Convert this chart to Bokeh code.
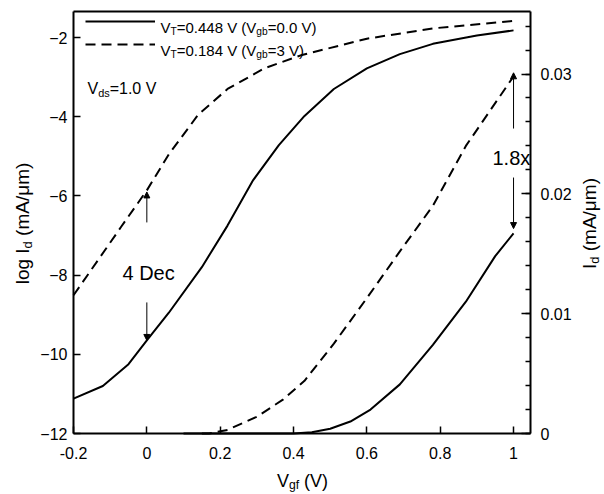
import math
import numpy as np
from bokeh.plotting import figure
from bokeh.models import (Range1d, LinearAxis, FixedTicker, CustomJSTickFormatter,
                          Label, Arrow, NormalHead, Legend, LegendItem)
from bokeh.embed import file_html
from bokeh.resources import INLINE

# ---------------- data ----------------
# log Id (left axis), Vgb = 0.0 V (solid) and Vgb = 3 V (dashed)
vg_solid_log = [-0.2, -0.12, -0.05, 0.0, 0.06, 0.15, 0.22, 0.29, 0.36, 0.43, 0.51, 0.6, 0.69, 0.78, 0.9, 1.0]
logid_solid = [-11.12, -10.8, -10.25, -9.65, -8.95, -7.8, -6.75, -5.6, -4.72, -3.98, -3.3, -2.78, -2.42, -2.16, -1.95, -1.82]
vg_dash_log = [-0.2, -0.13, -0.07, 0.0, 0.06, 0.14, 0.22, 0.32, 0.42, 0.6, 0.78, 1.0]
logid_dash = [-8.51, -7.58, -6.78, -5.86, -4.95, -3.95, -3.3, -2.78, -2.45, -2.03, -1.77, -1.58]
# linear Id (right axis, mA/um)
vg_solid_lin = [0.1, 0.40, 0.45, 0.50, 0.555, 0.61, 0.69, 0.78, 0.87, 0.95, 1.0]
id_solid = [0.0, 0.0, 0.0001, 0.0004, 0.001, 0.002, 0.0041, 0.0074, 0.011, 0.0148, 0.0167]
vg_dash_lin = [0.15, 0.17, 0.22, 0.30, 0.37, 0.43, 0.51, 0.60, 0.69, 0.78, 0.87, 1.0]
id_dash = [0.0, 0.0, 0.0003, 0.0014, 0.0028, 0.0044, 0.0075, 0.0113, 0.0152, 0.0190, 0.0240, 0.0298]

x_ticks = [-0.2, 0.0, 0.2, 0.4, 0.6, 0.8, 1.0]
y_ticks = [-12, -10, -8, -6, -4, -2]
id_ticks = [0.0, 0.01, 0.02, 0.03]

# ---------------- geometry (page pixels) ----------------
W_PX, H_PX = 604, 494
FL, FR, FT, FB = 73.0, 530.0, 11.0, 433.0   # plot box
X_LO, Y_LO = -0.2, -12.0
XS = 366.7          # px per volt
YS = 39.6           # px per decade
LS = 11983.0        # px per mA/um

def px_x(px):
    return X_LO + (px - FL) / XS

def px_y(py):
    return Y_LO + (FB - py) / YS

def px_lin(py):
    return (FB - py) / LS

X_HI, Y_HI, LIN_HI = px_x(FR), px_y(FT), px_lin(FT)
FONT = "Liberation Sans"
NB = "\u00a0"

p = figure(width=W_PX, height=H_PX, output_backend="svg", toolbar_location=None,
           x_range=Range1d(px_x(0), px_x(W_PX)), y_range=Range1d(px_y(H_PX), px_y(0)),
           min_border=0, min_border_left=0, min_border_right=0, min_border_top=0, min_border_bottom=0)
p.extra_y_ranges = {"lin": Range1d(px_lin(H_PX), px_lin(0))}
p.grid.visible = False
p.outline_line_color = None
p.background_fill_color = "white"
p.border_fill_color = "white"

def style_axis(ax, standoff, tick_in=7):
    ax.axis_line_width = 2
    ax.axis_line_color = "black"
    ax.major_tick_out = 0
    ax.major_tick_in = tick_in
    ax.major_tick_line_width = 1.5
    ax.minor_tick_out = 0
    ax.minor_tick_in = 0
    ax.major_label_text_font = FONT
    ax.major_label_text_font_size = "16px"
    ax.major_label_text_color = "black"
    ax.major_label_standoff = standoff

bx = p.xaxis[0]
style_axis(bx, 13)
bx.fixed_location = Y_LO
bx.bounds = (X_LO, X_HI)
bx.ticker = FixedTicker(ticks=x_ticks, minor_ticks=[])
bx.formatter = CustomJSTickFormatter(code="return String(Math.round(tick*10)/10);")

ly = p.yaxis[0]
style_axis(ly, 6)
ly.fixed_location = X_LO
ly.bounds = (Y_LO, Y_HI)
ly.ticker = FixedTicker(ticks=y_ticks, minor_ticks=[])

rax = LinearAxis(y_range_name="lin")
style_axis(rax, 10, tick_in=9)
rax.fixed_location = X_HI
rax.bounds = (0, LIN_HI)
rax.minor_tick_in = 5
rax.minor_tick_line_width = 1.5
rax.ticker = FixedTicker(ticks=id_ticks, minor_ticks=list(np.arange(0, LIN_HI, 0.002)))
rax.formatter = CustomJSTickFormatter(code="return tick == 0 ? '0' : tick.toFixed(2);")
p.add_layout(rax, "right")

tax = LinearAxis()
style_axis(tax, 0, tick_in=0)
tax.fixed_location = Y_HI
tax.bounds = (X_LO, X_HI)
tax.ticker = FixedTicker(ticks=[], minor_ticks=[])
tax.major_label_text_font_size = "0px"
p.add_layout(tax, "above")

# ---------------- curves ----------------
r_s = p.line(vg_solid_log, logid_solid, line_color="black", line_width=2)
r_d = p.line(vg_dash_log, logid_dash, line_color="black", line_width=2, line_dash="10 6")
p.line(vg_solid_lin, id_solid, line_color="black", line_width=2, y_range_name="lin")
p.line(vg_dash_lin, id_dash, line_color="black", line_width=2, line_dash="10 6", y_range_name="lin")

legend = Legend(items=[LegendItem(label=" ", renderers=[r_s]), LegendItem(label=" ", renderers=[r_d])],
                location=(85, 440), padding=0, margin=0, spacing=3, glyph_width=70, glyph_height=20,
                label_height=20, label_width=0, label_standoff=0, border_line_color=None,
                background_fill_alpha=0, label_text_font_size="1px")
p.add_layout(legend)

# ---------------- text helpers ----------------
W = {' ': 278, NB: 278, '(': 333, ')': 333, '.': 278, '/': 278, '=': 584, '-': 333, 'A': 667,
     'D': 722, 'I': 278, 'T': 611, 'V': 667, 'b': 556, 'c': 500, 'd': 556, 'e': 556, 'f': 278,
     'g': 556, 'l': 222, 'm': 833, 'o': 556, 's': 500, 'x': 500, 'μ': 576}

def tw(s, size):
    return sum(W.get(c, 556) for c in s) / 1000.0 * size

def rich(segs, bx_, by_, size, vertical=False, anchor="left"):
    total = sum(tw(t, size * (0.68 if s else 1)) for t, s in segs)
    pos = -total / 2 if anchor == "center" else 0.0
    for txt, sub in segs:
        fs = size * 0.68 if sub else size
        off = size * 0.26 if sub else 0.0
        if vertical:
            x, y, ang = bx_ + off, by_ - pos, math.pi / 2
        else:
            x, y, ang = bx_ + pos, by_ + off, 0.0
        p.add_layout(Label(x=px_x(x), y=px_y(y), text=txt, text_font=FONT,
                           text_font_size=f"{fs:.1f}px", text_color="black",
                           text_baseline="alphabetic", text_align="left", angle=ang))
        pos += tw(txt, fs)

rich([("V", 0), ("T", 1), ("=0.448 V (V", 0), ("gb", 1), ("=0.0 V)", 0)], 160, 27, 15)
rich([("V", 0), ("T", 1), ("=0.184 V (V", 0), ("gb", 1), ("=3 V)", 0)], 160, 50, 15)
rich([("V", 0), ("ds", 1), ("=1.0 V", 0)], 87, 88, 16)
rich([("4 Dec", 0)], 122, 272, 20)
rich([("1.8x", 0)], 492, 157, 20)
rich([("V", 0), ("gf", 1), (NB + "(V)", 0)], 302, 480, 18, anchor="center")
rich([("log I", 0), ("d", 1), (NB + "(mA/μm)", 0)], 22, 223, 19, vertical=True, anchor="center")
rich([("I", 0), ("d", 1), (NB + "(mA/μm)", 0)], 589, 223, 19, vertical=True, anchor="center")

# ---------------- arrows ----------------
def head():
    return NormalHead(size=6, fill_color="black", line_color="black", line_width=1)

p.add_layout(Arrow(end=head(), x_start=0.0, y_start=-6.67, x_end=0.0, y_end=-5.9,
                   line_width=1, line_color="black"))
p.add_layout(Arrow(end=head(), x_start=0.0, y_start=-8.69, x_end=0.0, y_end=-9.65,
                   line_width=1, line_color="black"))
p.add_layout(Arrow(end=head(), x_start=1.0, y_start=0.02545, x_end=1.0, y_end=0.0301,
                   line_width=1, line_color="black", y_range_name="lin"))
p.add_layout(Arrow(end=head(), x_start=1.0, y_start=0.02136, x_end=1.0, y_end=0.0171,
                   line_width=1, line_color="black", y_range_name="lin"))

open("out.html", "w").write(file_html(p, INLINE))
